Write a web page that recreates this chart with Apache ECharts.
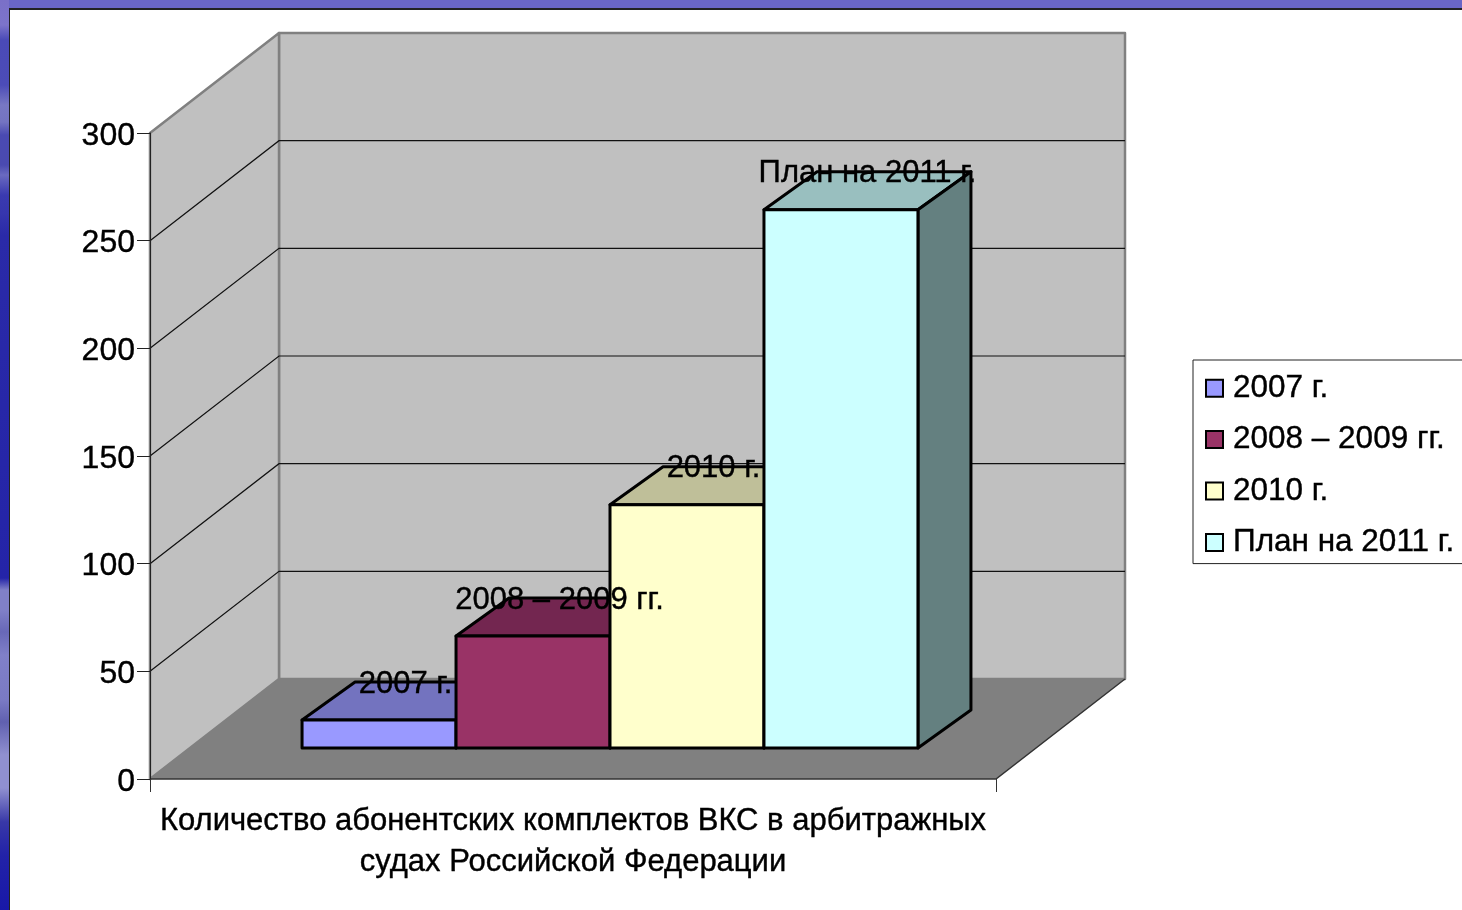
<!DOCTYPE html>
<html>
<head>
<meta charset="utf-8">
<title>Абонентские комплекты ВКС</title>
<style>
    html, body { margin: 0; height: 100%; overflow: hidden; }
    body {
        background: linear-gradient(to bottom, #7a70c8 0, #7c74ca 25px, #4a4ab8 40px, #4c4cb8 85px, #7878c4 105px, #7474c2 122px,
            #4a4ab2 135px, #4a4ab0 165px, #6a6ac0 175px, #3a3ab0 195px, #3636ae 213px, #2a2aa8 235px, #2424a8 578px,
            #8080c8 590px, #8080c8 610px, #6868b8 632px, #8080c8 655px, #7a7ac4 700px, #6060b0 722px, #9090d0 755px, #9090d0 788px,
            #3838a8 822px, #2222a8 855px, #1818a8 910px);
    }
    #panel {
        position: absolute; left: 9px; top: 0; right: 0; bottom: 0;
        background: #fff; border-left: 1px solid #222;
    }
    #topband {
        position: absolute; left: 0; top: 0; right: 0; height: 8px;
        background: #6a66c6; margin-left: 9px; border-bottom: 2px solid #222;
    }
    #charts { position: absolute; left: 0; top: 0; width: 1462px; height: 910px; }
</style>
</head>
<body>
<div id="panel"></div>
<div id="topband"></div>
<div id="charts"></div>

<script src="https://cdn.jsdelivr.net/npm/echarts@6/dist/echarts.min.js"></script>
<script>
    var categories = ['Количество абонентских комплектов ВКС в арбитражных\nсудах Российской Федерации'];
    var seriesNames = ['2007 г.', '2008 – 2009 гг.', '2010 г.', 'План на 2011 г.'];
    var seriesValues = [13, 52, 113, 250];
    var frontColors = ['#9999ff', '#993366', '#ffffcc', '#ccffff'];
    var topColors = ['#7373bf', '#732650', '#bfbf99', '#99bfbf'];
    var sideColors = ['#5c5c99', '#5c1f3d', '#99997a', '#648080'];
    var gridTicks = [50, 100, 150, 200, 250, 300];

    var fontName = '"Liberation Sans", sans-serif';

    // 3D look: how far the back wall and the bars are pushed back, in px
    var wallDx = 129, wallDy = -100;
    var barNearDx = 37, barNearDy = -31;
    var barDepthDx = 53, barDepthDy = -38;
    var barShare = 0.182;

    function poly(points, fill, stroke, lineWidth) {
        return {
            type: 'polygon',
            shape: { points: points },
            style: { fill: fill, stroke: stroke, lineWidth: lineWidth, lineJoin: 'round' }
        };
    }

    function renderWalls(params, api) {
        var a = api.coord([0, 0]);
        var t = api.coord([0, 300]);
        var band = api.size([1, 0])[0];
        var x0 = a[0] - band / 2, x1 = a[0] + band / 2, y0 = a[1], y1 = t[1];
        var children = [
            // back wall, left wall, floor
            poly([[x0 + wallDx, y1 + wallDy], [x1 + wallDx, y1 + wallDy], [x1 + wallDx, y0 + wallDy], [x0 + wallDx, y0 + wallDy]], '#c0c0c0', '#808080', 2.5),
            poly([[x0, y1], [x0 + wallDx, y1 + wallDy], [x0 + wallDx, y0 + wallDy], [x0, y0]], '#c0c0c0', '#808080', 2.5)
        ];
        gridTicks.forEach(function (v) {
            var y = api.coord([0, v])[1];
            if (v === 300) {
                return;
            }
            children.push({
                type: 'polyline',
                shape: { points: [[x0, y], [x0 + wallDx, y + wallDy], [x1 + wallDx, y + wallDy]] },
                style: { fill: null, stroke: '#111', lineWidth: 1.2 }
            });
        });
        children.push(poly([[x0, y0], [x1, y0], [x1 + wallDx, y0 + wallDy], [x0 + wallDx, y0 + wallDy]], '#808080', null, 0));
        children.push({
            type: 'polyline',
            shape: { points: [[x0, y0], [x1, y0], [x1 + wallDx, y0 + wallDy]] },
            style: { fill: null, stroke: '#333', lineWidth: 1.5 }
        });
        return { type: 'group', children: children };
    }

    function makeBarRenderer(i) {
        return function (params, api) {
            var base = api.coord([0, 0]);
            var top = api.coord([0, api.value(1)]);
            var band = api.size([1, 0])[0];
            var w = band * barShare;
            var left = base[0] - 2 * w + i * w + barNearDx;
            var right = left + w;
            var y0 = base[1] + barNearDy;
            var y1 = top[1] + barNearDy;
            return {
                type: 'group',
                children: [
                    poly([[left, y1], [right, y1], [right + barDepthDx, y1 + barDepthDy], [left + barDepthDx, y1 + barDepthDy]], topColors[i], '#000', 3),
                    poly([[right, y0], [right, y1], [right + barDepthDx, y1 + barDepthDy], [right + barDepthDx, y0 + barDepthDy]], sideColors[i], '#000', 3),
                    poly([[left, y0], [right, y0], [right, y1], [left, y1]], frontColors[i], '#000', 3)
                ]
            };
        };
    }

    function renderLabel(params, api) {
        var i = api.value(2);
        var base = api.coord([0, 0]);
        var top = api.coord([0, api.value(1)]);
        var w = api.size([1, 0])[0] * barShare;
        return {
            type: 'text',
            style: {
                x: base[0] - 2 * w + i * w + w / 2 + barNearDx + barDepthDx / 2,
                y: top[1] + barNearDy + barDepthDy + 2,
                text: seriesNames[i],
                fill: '#000',
                stroke: '#000',
                lineWidth: 0.4,
                font: '31px ' + fontName,
                align: 'center',
                verticalAlign: 'middle'
            }
        };
    }

    var myChart = echarts.init(document.getElementById('charts'));

    var series = [{
        type: 'custom',
        z: 1,
        silent: true,
        renderItem: renderWalls,
        data: [[0, 0]]
    }];

    seriesNames.forEach(function (name, i) {
        series.push({
            name: name,
            type: 'custom',
            z: 3 + i,
            itemStyle: { color: frontColors[i] },
            renderItem: makeBarRenderer(i),
            data: [[0, seriesValues[i]]]
        });
    });

    series.push({
        type: 'custom',
        z: 10,
        silent: true,
        renderItem: renderLabel,
        data: seriesValues.map(function (v, i) { return [0, v, i]; })
    });

    var option = {
        backgroundColor: 'transparent',
        animation: false,
        grid: { left: 150, top: 133, width: 846, height: 646 },
        legend: {
            data: seriesNames,
            orient: 'vertical',
            left: 1193,
            top: 360,
            icon: 'rect',
            itemWidth: 17,
            itemHeight: 17,
            itemGap: 19,
            padding: [12, 30, 5, 12],
            borderColor: '#222',
            borderWidth: 1,
            backgroundColor: '#fff',
            itemStyle: { borderColor: '#000', borderWidth: 2 },
            selectedMode: false,
            textStyle: { color: '#000', fontFamily: fontName, fontSize: 31.5, padding: [2, 0, 0, 5], textBorderColor: '#000', textBorderWidth: 0.4 }
        },
        xAxis: {
            type: 'category',
            data: categories,
            z: 2,
            axisLine: { show: false },
            axisTick: { show: true, length: 13, alignWithLabel: false, lineStyle: { color: '#333', width: 1 } },
            axisLabel: { color: '#000', fontFamily: fontName, fontSize: 31, lineHeight: 41, margin: 22, interval: 0, textBorderColor: '#000', textBorderWidth: 0.4 }
        },
        yAxis: {
            type: 'value',
            min: 0,
            max: 300,
            interval: 50,
            z: 2,
            splitLine: { show: false },
            axisLine: { show: true, lineStyle: { color: '#222', width: 1 } },
            axisTick: { show: true, length: 13, lineStyle: { color: '#222', width: 1 } },
            axisLabel: { color: '#000', fontFamily: fontName, fontSize: 32, margin: 15, verticalAlign: 'top', lineHeight: 6, textBorderColor: '#000', textBorderWidth: 0.4 }
        },
        series: series
    };

    myChart.setOption(option);
</script>
</body>
</html>
